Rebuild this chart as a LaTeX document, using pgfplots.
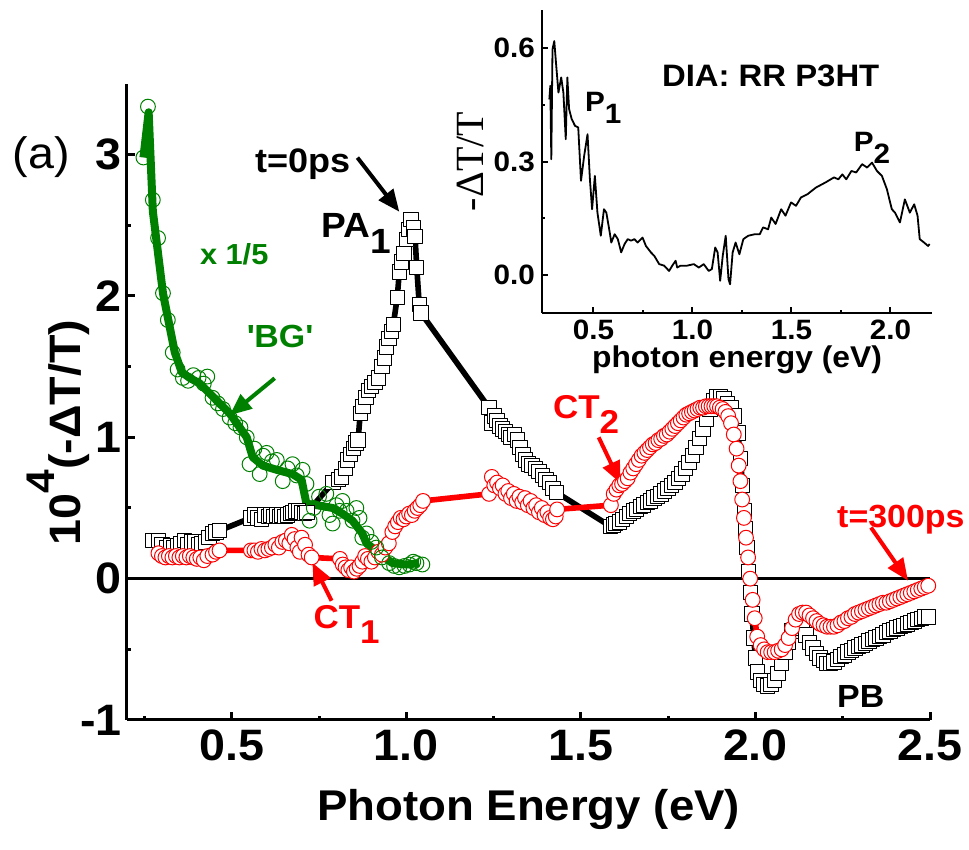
\documentclass[border=0pt]{standalone}
\usepackage{fontspec}
\setmainfont{Liberation Sans}[FakeStretch=1.06]
\newfontfamily\serif{Liberation Serif}
\usepackage{pgfplots}
\pgfplotsset{compat=1.18}
\usetikzlibrary{arrows.meta}
\definecolor{bggreen}{RGB}{0,128,0}
\definecolor{ctred}{RGB}{255,0,0}
\newcommand{\fs}[1]{\fontsize{#1}{#1}\selectfont}
\newcommand{\sub}[1]{\raisebox{-0.45em}{#1}}
\tikzset{pointer/.style={line width=2pt,-{Triangle[length=11pt,width=9pt]}}}

\begin{document}
\begin{tikzpicture}
\path[use as bounding box] (-63.5pt,-65pt) rectangle (421pt,360pt);

% ---------------- main panel ----------------
\begin{axis}[
  at={(0,0)}, anchor=south west,
  scale only axis, width=401.5pt, height=318pt,
  xmin=0.2, xmax=2.5, ymin=-1, ymax=3.5,
  axis x line*=bottom, axis y line*=left,
  axis line style={line width=1.5pt,-},
  xtick={0.5,1,1.5,2,2.5}, xticklabels={0.5,1.0,1.5,2.0,2.5},
  minor xtick={0.25,0.75,1.25,1.75,2.25},
  ytick={-1,0,1,2,3}, yticklabels={-1,0,1,2,3},
  minor ytick={-0.5,0.5,1.5,2.5},
  tick align=inside,
  major tick length=4pt, minor tick length=2pt,
  every tick/.style={line width=1.5pt,black},
  tick label style={font=\bfseries\fs{22}},
  xticklabel style={yshift=-1.5pt},
  yticklabel style={xshift=1pt},
  xlabel={Photon Energy (eV)},
  xlabel style={font=\bfseries\fs{21.5}, yshift=-7pt},
  clip=false,
  line join=round,
]
% zero line
\addplot[black, line width=1.5pt, forget plot] coordinates {(0.2,0) (2.5,0)};

% t = 0 ps
\addplot[black, line width=2.8pt, mark=square*, mark size=3.6pt,
  mark options={fill=white, draw=black, line width=0.5pt, solid}] coordinates {
(0.275,0.27)(0.29,0.27)(0.30,0.24)(0.315,0.22)(0.325,0.23)(0.335,0.22)(0.345,0.23)
(0.355,0.25)(0.365,0.27)(0.375,0.24)(0.385,0.26)(0.395,0.26)(0.405,0.24)(0.415,0.25)
(0.425,0.26)(0.435,0.29)(0.445,0.32)(0.455,0.33)(0.465,0.34)
(0.555,0.43)(0.565,0.45)(0.575,0.43)(0.585,0.42)(0.595,0.45)(0.605,0.44)(0.612,0.45)
(0.62,0.44)(0.628,0.45)(0.636,0.44)(0.644,0.45)(0.652,0.44)(0.66,0.45)(0.668,0.46)
(0.676,0.47)(0.684,0.48)(0.692,0.48)(0.70,0.47)(0.708,0.46)(0.716,0.47)
(0.79,0.68)(0.805,0.70)(0.815,0.72)(0.825,0.78)(0.832,0.84)(0.84,0.88)(0.848,0.92)
(0.856,0.96)(0.862,0.98)
(0.868,1.17)(0.876,1.22)(0.884,1.28)(0.892,1.33)(0.90,1.36)(0.91,1.39)(0.92,1.42)
(0.93,1.50)(0.937,1.56)(0.944,1.64)(0.95,1.70)(0.957,1.75)(0.963,1.80)
(0.974,1.99)(0.98,2.17)(0.986,2.24)(0.993,2.30)(1.0,2.40)(1.007,2.47)(1.014,2.54)
(1.02,2.48)(1.025,2.42)(1.03,2.2)(1.037,1.94)(1.042,1.88)
(1.237,1.21)(1.245,1.10)(1.252,1.15)(1.26,1.12)(1.268,1.08)(1.276,1.06)(1.284,1.04)
(1.292,1.02)(1.30,1.00)(1.31,1.02)(1.318,0.98)(1.326,0.93)(1.334,0.88)(1.342,0.84)
(1.35,0.81)(1.36,0.80)(1.37,0.78)(1.38,0.76)(1.39,0.73)(1.40,0.70)(1.41,0.68)
(1.42,0.64)(1.43,0.61)
(1.585,0.37)(1.593,0.38)(1.60,0.39)(1.61,0.40)(1.62,0.42)(1.63,0.44)(1.64,0.46)
(1.65,0.48)(1.66,0.49)(1.67,0.51)(1.68,0.52)(1.69,0.54)(1.70,0.55)(1.71,0.57)
(1.72,0.58)(1.73,0.60)(1.74,0.62)(1.75,0.64)(1.76,0.66)(1.77,0.68)(1.78,0.71)
(1.79,0.74)(1.80,0.78)(1.81,0.82)(1.82,0.87)(1.83,0.93)(1.84,0.99)(1.85,1.06)
(1.86,1.13)(1.87,1.20)(1.88,1.26)(1.89,1.29)(1.90,1.29)(1.91,1.27)(1.92,1.24)
(1.93,1.21)(1.94,1.15)(1.95,1.03)(1.957,0.85)(1.963,0.66)(1.968,0.48)(1.972,0.35)
(1.976,0.22)(1.98,0.05)(1.985,-0.10)(1.99,-0.25)(1.995,-0.42)(2.0,-0.56)(2.006,-0.66)
(2.015,-0.72)(2.025,-0.75)(2.035,-0.76)(2.045,-0.75)(2.055,-0.72)(2.065,-0.67)
(2.075,-0.60)(2.085,-0.52)(2.095,-0.45)(2.105,-0.37)(2.115,-0.33)(2.125,-0.32)
(2.135,-0.35)(2.145,-0.40)(2.155,-0.45)(2.165,-0.49)(2.175,-0.53)(2.185,-0.56)
(2.195,-0.58)(2.205,-0.60)(2.215,-0.60)(2.225,-0.59)(2.235,-0.57)(2.245,-0.55)
(2.255,-0.54)(2.265,-0.52)(2.275,-0.51)(2.285,-0.49)(2.295,-0.48)(2.305,-0.47)
(2.315,-0.46)(2.325,-0.44)(2.335,-0.43)(2.345,-0.42)(2.355,-0.41)(2.365,-0.40)
(2.375,-0.38)(2.385,-0.37)(2.395,-0.36)(2.405,-0.35)(2.415,-0.34)(2.425,-0.33)
(2.435,-0.32)(2.445,-0.31)(2.455,-0.30)(2.465,-0.29)(2.475,-0.28)(2.485,-0.27)
(2.495,-0.27)
};

% t = 300 ps
\addplot[ctred, line width=2.8pt, mark=*, mark size=3.7pt,
  mark options={fill=white, draw=ctred, line width=0.5pt, solid}] coordinates {
(0.29,0.18)(0.30,0.16)(0.31,0.15)(0.32,0.16)(0.33,0.15)(0.34,0.16)(0.35,0.15)
(0.36,0.16)(0.37,0.15)(0.38,0.16)(0.39,0.15)(0.40,0.14)(0.41,0.15)(0.42,0.13)
(0.43,0.16)(0.445,0.17)(0.455,0.19)(0.465,0.20)
(0.555,0.20)(0.565,0.20)(0.575,0.19)(0.585,0.21)(0.595,0.20)(0.605,0.21)(0.615,0.22)
(0.625,0.24)(0.635,0.22)(0.645,0.26)(0.655,0.27)(0.665,0.25)(0.672,0.31)(0.68,0.28)
(0.688,0.22)(0.695,0.19)(0.70,0.29)(0.71,0.24)(0.72,0.17)(0.729,0.15)
(0.81,0.14)(0.818,0.10)(0.826,0.08)(0.834,0.06)(0.842,0.08)(0.85,0.05)(0.858,0.07)
(0.866,0.09)(0.874,0.12)(0.882,0.16)(0.89,0.14)(0.90,0.12)(0.91,0.15)(0.92,0.19)
(0.93,0.17)(0.94,0.22)(0.95,0.25)(0.96,0.33)(0.968,0.37)(0.976,0.40)(0.984,0.43)
(0.992,0.42)(1.0,0.44)(1.008,0.46)(1.016,0.45)(1.024,0.48)(1.032,0.50)(1.04,0.52)
(1.048,0.55)
(1.237,0.60)(1.245,0.72)(1.252,0.66)(1.26,0.68)(1.268,0.64)(1.276,0.66)(1.284,0.60)
(1.292,0.62)(1.30,0.57)(1.308,0.60)(1.316,0.55)(1.324,0.58)(1.332,0.54)(1.34,0.57)
(1.348,0.52)(1.356,0.55)(1.364,0.50)(1.372,0.52)(1.38,0.47)(1.388,0.50)(1.396,0.45)
(1.404,0.47)(1.412,0.43)(1.42,0.42)(1.428,0.44)(1.432,0.49)
(1.586,0.52)(1.594,0.60)(1.602,0.63)(1.61,0.66)(1.618,0.67)(1.626,0.69)(1.634,0.71)
(1.642,0.75)(1.65,0.78)(1.658,0.81)(1.666,0.84)(1.674,0.87)(1.682,0.89)(1.69,0.91)
(1.698,0.93)(1.706,0.95)(1.714,0.96)(1.722,0.98)(1.73,0.99)(1.738,1.01)(1.746,1.02)
(1.754,1.04)(1.762,1.06)(1.77,1.08)(1.778,1.10)(1.786,1.12)(1.794,1.14)(1.802,1.16)
(1.81,1.17)(1.818,1.18)(1.826,1.19)(1.834,1.20)(1.842,1.21)(1.85,1.21)(1.858,1.22)
(1.866,1.22)(1.874,1.22)(1.882,1.22)(1.89,1.22)(1.898,1.21)(1.906,1.20)(1.914,1.18)
(1.922,1.15)(1.93,1.10)(1.938,1.02)(1.946,0.92)(1.952,0.80)(1.957,0.69)(1.962,0.56)
(1.967,0.43)(1.973,0.29)(1.979,0.15)(1.985,0.00)(1.992,-0.15)(1.998,-0.28)
(2.005,-0.41)(2.015,-0.47)(2.025,-0.50)(2.035,-0.52)(2.045,-0.52)(2.055,-0.52)
(2.065,-0.51)(2.075,-0.50)(2.085,-0.47)(2.095,-0.42)(2.105,-0.35)(2.115,-0.29)
(2.125,-0.25)(2.135,-0.24)(2.145,-0.24)(2.155,-0.26)(2.165,-0.28)(2.175,-0.30)
(2.185,-0.32)(2.195,-0.33)(2.205,-0.34)(2.215,-0.34)(2.225,-0.34)(2.235,-0.33)
(2.245,-0.31)(2.255,-0.30)(2.265,-0.28)(2.275,-0.27)(2.285,-0.25)(2.295,-0.24)
(2.305,-0.23)(2.315,-0.22)(2.325,-0.21)(2.335,-0.20)(2.345,-0.19)(2.355,-0.18)
(2.365,-0.17)(2.375,-0.17)(2.385,-0.16)(2.395,-0.15)(2.405,-0.14)(2.415,-0.13)
(2.425,-0.12)(2.435,-0.11)(2.445,-0.10)(2.455,-0.09)(2.465,-0.08)(2.475,-0.07)
(2.485,-0.06)(2.495,-0.05)
};

% 'BG' (scaled x 1/5): open circles and smoothed trace
\addplot[only marks, mark=o, mark size=3.7pt,
  mark options={draw=bggreen, line width=0.5pt}] coordinates {
(0.247,2.98)(0.26,3.34)(0.274,2.68)(0.289,2.41)(0.303,2.02)(0.317,1.83)(0.331,1.60)
(0.345,1.48)(0.36,1.42)(0.375,1.40)(0.39,1.44)(0.405,1.42)(0.42,1.38)(0.43,1.43)
(0.445,1.28)(0.46,1.24)(0.475,1.20)(0.494,1.14)(0.51,1.10)(0.525,1.07)(0.543,1.00)
(0.551,0.81)(0.565,0.92)(0.58,0.74)(0.59,0.87)(0.60,0.89)(0.615,0.83)(0.629,0.84)
(0.646,0.69)(0.66,0.78)(0.674,0.81)(0.686,0.73)(0.703,0.77)(0.714,0.67)(0.723,0.41)
(0.735,0.50)(0.75,0.58)(0.771,0.60)(0.78,0.45)(0.789,0.39)(0.80,0.52)(0.809,0.48)
(0.817,0.55)(0.829,0.48)(0.846,0.41)(0.857,0.50)(0.866,0.43)(0.874,0.29)(0.886,0.32)
(0.90,0.26)(0.914,0.22)(0.93,0.15)(0.951,0.11)(0.965,0.09)(0.98,0.08)(0.995,0.09)
(1.009,0.10)(1.02,0.12)(1.029,0.11)(1.046,0.10)
};
\addplot[bggreen, line width=4pt, no marks] coordinates {
(0.247,2.98)(0.262,3.30)(0.274,2.60)(0.303,2.02)(0.337,1.60)(0.357,1.46)(0.38,1.42)
(0.409,1.38)(0.437,1.31)(0.465,1.24)(0.494,1.17)(0.52,1.08)(0.543,1.00)(0.56,0.86)
(0.589,0.80)(0.629,0.77)(0.674,0.74)(0.70,0.70)(0.714,0.53)(0.743,0.52)(0.789,0.50)
(0.817,0.46)(0.846,0.41)(0.874,0.32)(0.886,0.25)(0.923,0.18)(0.96,0.11)(1.0,0.10)
(1.037,0.11)
};

% annotations
\node[rotate=90, font=\bfseries\fs{22}] at (axis cs:0.003,1.035)
  {10\raisebox{0.6em}{\fs{20}4}(-ΔT/T)};
\node[font=\fs{22}] at (axis cs:-0.046,2.986) {(a)};
\node[font=\bfseries\fs{17}] at (axis cs:0.703,2.93) {t=0ps};
\draw[pointer, black] (axis cs:0.86,2.979) -- (axis cs:0.98,2.596);
\node[anchor=base west, font=\bfseries\fs{17.5}] at (axis cs:0.738,2.411) {PA\sub{1}};
\node[anchor=base west, font=\bfseries\fs{14.5}, text=bggreen] at (axis cs:0.389,2.22) {x 1/5};
\node[anchor=base west, font=\bfseries\fs{16}, text=bggreen] at (axis cs:0.523,1.638)
  {\textquotesingle BG\textquotesingle};
\draw[pointer, bggreen] (axis cs:0.623,1.418) -- (axis cs:0.494,1.156);
\node[anchor=base west, font=\bfseries\fs{16.5}, text=ctred] at (axis cs:0.714,-0.355) {CT\sub{1}};
\draw[pointer, ctred] (axis cs:0.786,-0.156) -- (axis cs:0.731,0.113);
\node[anchor=base west, font=\bfseries\fs{16.5}, text=ctred] at (axis cs:1.40,1.135) {CT\sub{2}};
\draw[pointer, ctred] (axis cs:1.551,1.0) -- (axis cs:1.614,0.674);
\node[anchor=base west, font=\bfseries\fs{16}, text=ctred] at (axis cs:2.214,0.362) {t=300ps};
\draw[pointer, ctred] (axis cs:2.331,0.362) -- (axis cs:2.437,-0.014);
\node[anchor=base west, font=\bfseries\fs{16}] at (axis cs:2.214,-0.915) {PB};
\end{axis}

% ---------------- inset: DIA spectrum ----------------
\begin{axis}[
  at={(207.5pt,203.5pt)}, anchor=south west,
  scale only axis, width=195pt, height=151.5pt,
  xmin=0.24, xmax=2.21, ymin=-0.1, ymax=0.7,
  axis x line*=bottom, axis y line*=left,
  axis line style={line width=1pt,-},
  xtick={0.5,1,1.5,2}, xticklabels={0.5,1.0,1.5,2.0},
  minor xtick={0.75,1.25,1.75},
  ytick={0,0.3,0.6}, yticklabels={0.0,0.3,0.6},
  minor ytick={0.15,0.45},
  tick align=inside,
  major tick length=3pt, minor tick length=1.5pt,
  every tick/.style={line width=1pt,black},
  tick label style={font=\bfseries\fs{14}},
  xlabel={photon energy (eV)},
  xlabel style={font=\bfseries\fs{15}, yshift=4pt},
  ylabel={\serif -ΔT/T},
  ylabel style={font=\fs{20}, yshift=-2pt},
  clip=false,
]
\addplot[black, line width=0.9pt, no marks, line join=round] coordinates {
(0.277,0.464)(0.282,0.50)(0.287,0.306)(0.293,0.596)(0.302,0.618)(0.312,0.552)
(0.323,0.482)(0.337,0.522)(0.348,0.482)(0.36,0.359)(0.368,0.522)(0.377,0.438)
(0.39,0.412)(0.407,0.394)(0.423,0.39)(0.437,0.249)(0.453,0.315)(0.47,0.372)
(0.482,0.253)(0.493,0.174)(0.507,0.262)(0.52,0.165)(0.537,0.104)(0.553,0.174)
(0.565,0.165)(0.582,0.113)(0.59,0.086)(0.607,0.108)(0.623,0.095)(0.64,0.06)
(0.657,0.082)(0.673,0.095)(0.69,0.091)(0.707,0.095)(0.723,0.086)(0.748,0.099)
(0.765,0.077)(0.79,0.06)(0.807,0.051)(0.832,0.029)(0.857,0.025)(0.882,0.011)
(0.898,0.025)(0.915,0.038)(0.923,0.02)(0.94,0.025)(0.973,0.025)(1.007,0.029)
(1.032,0.02)(1.057,0.029)(1.082,0.011)(1.098,0.016)(1.115,0.073)(1.127,0.06)
(1.14,-0.015)(1.153,0.051)(1.168,0.104)(1.182,-0.011)(1.19,-0.024)(1.203,0.06)
(1.218,0.086)(1.237,0.055)(1.257,0.095)(1.282,0.104)(1.315,0.108)(1.34,0.108)
(1.357,0.126)(1.382,0.121)(1.398,0.152)(1.42,0.135)(1.448,0.174)(1.47,0.157)
(1.498,0.192)(1.523,0.183)(1.548,0.205)(1.582,0.214)(1.623,0.231)(1.673,0.245)
(1.715,0.258)(1.737,0.253)(1.757,0.266)(1.777,0.253)(1.803,0.275)(1.827,0.271)
(1.857,0.293)(1.882,0.284)(1.907,0.297)(1.932,0.275)(1.957,0.262)(1.982,0.227)
(2.007,0.174)(2.023,0.165)(2.048,0.139)(2.073,0.20)(2.098,0.165)(2.12,0.187)
(2.137,0.157)(2.148,0.095)(2.17,0.086)(2.19,0.077)(2.198,0.082)
};
\node[anchor=base west, font=\bfseries\fs{15.5}] at (axis cs:0.811,0.499) {DIA: RR P3HT};
\node[anchor=base west, font=\bfseries\fs{14}] at (axis cs:0.422,0.433) {P\sub{1}};
\node[anchor=base west, font=\bfseries\fs{14}] at (axis cs:1.78,0.327) {P\sub{2}};
\end{axis}
\end{tikzpicture}
\end{document}
